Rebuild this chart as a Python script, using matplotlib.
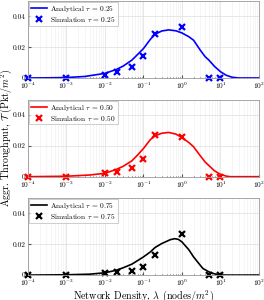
import matplotlib
matplotlib.use("Agg")
import matplotlib.pyplot as plt
from matplotlib.ticker import LogLocator, NullFormatter

plt.rcParams["font.family"] = "cmr10"
plt.rcParams["mathtext.fontset"] = "cm"
plt.rcParams["axes.formatter.use_mathtext"] = True

# analytical curves
lam_025 = [1e-4, 3e-4, 1e-3, 3e-3, 1e-2, 2e-2, 3e-2, 5e-2, 0.07, 0.1, 0.15, 0.2, 0.3, 0.45,
           0.7, 1, 1.5, 2, 3, 4, 5, 7, 10, 14, 20, 30, 100]
ana_025 = [0.0, 0.0001, 0.0003, 0.001, 0.003, 0.0056, 0.0078, 0.0116, 0.0152, 0.0191, 0.025,
           0.0284, 0.0305, 0.0312, 0.0306, 0.0292, 0.0268, 0.0245, 0.018, 0.0138, 0.0116,
           0.0075, 0.0041, 0.0018, 0.0005, 0.0, 0.0]

lam_050 = [1e-4, 1e-3, 4e-3, 1e-2, 2e-2, 3e-2, 5e-2, 0.07, 0.1, 0.15, 0.2, 0.3, 0.45, 0.7,
           1, 1.5, 2, 3, 4, 5, 7, 10, 14, 18, 100]
ana_050 = [0.0, 0.0003, 0.0011, 0.0022, 0.0048, 0.0068, 0.0103, 0.014, 0.0183, 0.024, 0.0265,
           0.0282, 0.0287, 0.0276, 0.0254, 0.0222, 0.0194, 0.0135, 0.0095, 0.0072, 0.0038,
           0.0015, 0.0004, 0.0, 0.0]

lam_075 = [1e-4, 1e-3, 4e-3, 1e-2, 2e-2, 3e-2, 5e-2, 0.1, 0.15, 0.2, 0.3, 0.5, 0.65, 0.8,
           1, 1.5, 2, 3, 3.5, 5, 7, 10, 15, 100]
ana_075 = [0.0, 0.0002, 0.0006, 0.0015, 0.0032, 0.0048, 0.0071, 0.0118, 0.015, 0.0179, 0.0205,
           0.023, 0.0236, 0.0232, 0.0215, 0.0165, 0.0118, 0.0063, 0.0043, 0.0021, 0.0008,
           0.0001, 0.0, 0.0]

# simulation points
lam_sim = [1e-4, 1e-3, 1e-2, 2e-2, 5e-2, 0.1, 0.2, 1, 5, 10]
sim_025 = [0.0, 0.0001, 0.0019, 0.0037, 0.0069, 0.0144, 0.0284, 0.0331, 0.0, 0.0]
sim_050 = [0.0, 0.0001, 0.0022, 0.0032, 0.0058, 0.0112, 0.0269, 0.0258, 0.0, 0.0]
sim_075 = [0.0, 0.0001, 0.0011, 0.0017, 0.0028, 0.0054, 0.0129, 0.0269, 0.0, 0.0]

panels = [
    ("0.25", "#0000ff", lam_025, ana_025, sim_025),
    ("0.50", "#ff0000", lam_050, ana_050, sim_050),
    ("0.75", "#000000", lam_075, ana_075, sim_075),
]

fig = plt.figure(figsize=(2.64, 3.0), dpi=100)

bottoms = [0.74, 0.411, 0.083]
for (tau, color, lam, ana, sim), bottom in zip(panels, bottoms):
    ax = fig.add_axes([0.106, bottom, 0.875, 0.257])
    ax.plot(lam, ana, color=color, linewidth=1.2, label=r"Analytical $\tau$ = " + tau)
    ax.plot(lam_sim, sim, linestyle="none", marker="x", markersize=4.5, markeredgewidth=1.6,
            color=color, clip_on=False, label=r"Simulation $\tau$ = " + tau)
    ax.set_xscale("log")
    ax.set_xlim(1e-4, 1e2)
    ax.set_ylim(0, 0.05)
    ax.set_yticks([0, 0.02, 0.04])
    ax.set_yticklabels(["0", "0.02", "0.04"])
    ax.xaxis.set_major_locator(LogLocator(base=10, numticks=10))
    ax.xaxis.set_minor_locator(LogLocator(base=10, subs=range(2, 10), numticks=20))
    ax.xaxis.set_minor_formatter(NullFormatter())
    ax.tick_params(which="both", direction="in", labelsize=5.3, length=2, color="#555555", pad=2)
    ax.tick_params(which="minor", length=1)
    ax.grid(True, which="major", color="#dddddd", linewidth=0.5)
    ax.grid(True, which="minor", axis="x", color="#eeeeee", linewidth=0.4)
    for s in ax.spines.values():
        s.set_color("#999999")
        s.set_linewidth(0.6)
    leg = ax.legend(loc="upper left", fontsize=5.3, handlelength=2.2, borderpad=0.25,
                    labelspacing=0.15, handletextpad=0.4, borderaxespad=0.15, fancybox=False)
    leg.get_frame().set_edgecolor("#aaaaaa")
    leg.get_frame().set_linewidth(0.5)
    if tau == "0.75":
        ax.set_xlabel(r"Network Density, $\lambda$ (nodes/$m^2$)", fontsize=7.2, labelpad=0)
    if tau == "0.50":
        ax.set_ylabel(r"Aggr. Throughput, $\mathcal{T}$ (Pkt/$m^2$)", fontsize=7.2)
        ax.yaxis.set_label_coords(-0.062, 0.5)

fig.savefig("out.png", dpi=100)
plt.close()
